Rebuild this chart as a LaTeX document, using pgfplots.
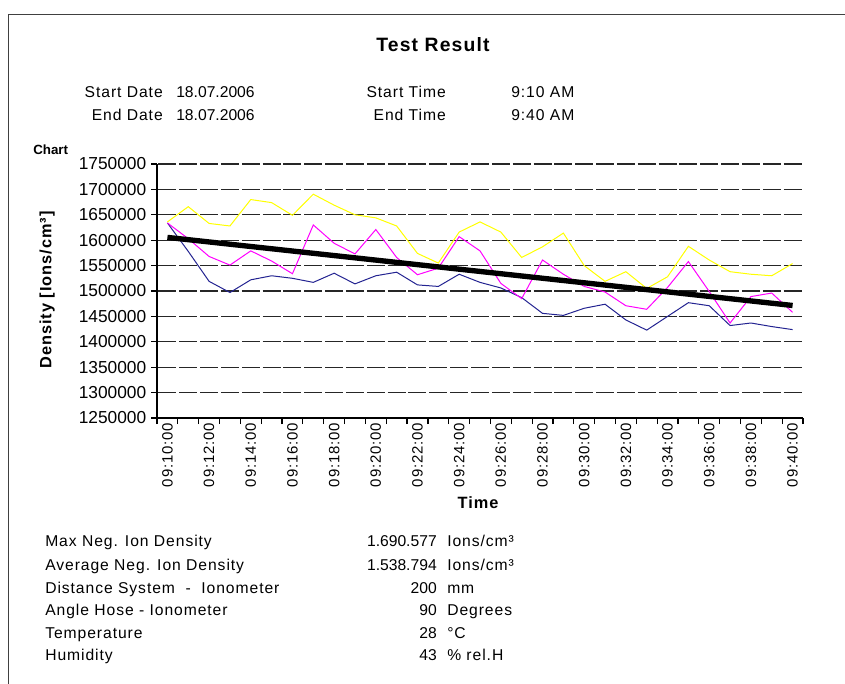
\documentclass[border=0pt]{standalone}
\usepackage{fontspec}
\setmainfont{Liberation Sans}
\newfontfamily\spaced{Liberation Sans}[LetterSpace=6]
\usepackage{pgfplots}
\pgfplotsset{compat=1.18}
\definecolor{navyline}{RGB}{35,35,145}
\definecolor{ylw}{RGB}{255,255,0}
\definecolor{mgt}{RGB}{255,0,255}
\newcommand\body{\spaced\fontsize{11.75}{14}\selectfont}
\newcommand\num{\fontsize{11.75}{14}\selectfont}
\begin{document}
\begin{tikzpicture}
\path[use as bounding box] (0pt,0pt) rectangle (633.75pt,-513pt);
\begin{scope}[x=0.75pt,y=-0.75pt]
\draw[line width=0.75pt, black!75] (8,690) -- (8,15) -- (850,15);
\node[anchor=base, inner sep=0] at (433,52) {\spaced\bfseries\fontsize{14.5}{16}\selectfont Test Result};
\node[anchor=base east, inner sep=0] at (163,98) {\body Start Date};
\node[anchor=base west, inner sep=0] at (176,98) {\num 18.07.2006};
\node[anchor=base east, inner sep=0] at (446,98) {\body Start Time};
\node[anchor=base west, inner sep=0] at (511,98) {\body 9:10 AM};
\node[anchor=base east, inner sep=0] at (163,121) {\body End Date};
\node[anchor=base west, inner sep=0] at (176,121) {\num 18.07.2006};
\node[anchor=base east, inner sep=0] at (446,121) {\body End Time};
\node[anchor=base west, inner sep=0] at (511,121) {\body 9:40 AM};
\node[anchor=base west, inner sep=0] at (33,155) {\bfseries\fontsize{10}{11}\selectfont Chart};
% bottom block
\node[anchor=base west, inner sep=0] at (45,546.5) {\body Max Neg. Ion Density};
\node[anchor=base west, inner sep=0] at (45,570.5) {\body Average Neg. Ion Density};
\node[anchor=base west, inner sep=0] at (45,593.5) {\body Distance System\ \ -\ \ Ionometer};
\node[anchor=base west, inner sep=0] at (45,615.5) {\body Angle Hose - Ionometer};
\node[anchor=base west, inner sep=0] at (45,638.5) {\body Temperature};
\node[anchor=base west, inner sep=0] at (45,660.5) {\body Humidity};
\node[anchor=base east, inner sep=0] at (437,546.5) {\num 1.690.577};
\node[anchor=base east, inner sep=0] at (437,570.5) {\num 1.538.794};
\node[anchor=base east, inner sep=0] at (437,593.5) {\num 200};
\node[anchor=base east, inner sep=0] at (437,615.5) {\num 90};
\node[anchor=base east, inner sep=0] at (437,638.5) {\num 28};
\node[anchor=base east, inner sep=0] at (437,660.5) {\num 43};
\node[anchor=base west, inner sep=0] at (447,546.5) {\body Ions/cm³};
\node[anchor=base west, inner sep=0] at (447,570.5) {\body Ions/cm³};
\node[anchor=base west, inner sep=0] at (447,593.5) {\body mm};
\node[anchor=base west, inner sep=0] at (447,615.5) {\body Degrees};
\node[anchor=base west, inner sep=0] at (447,638.5) {\body °C};
\node[anchor=base west, inner sep=0] at (447,660.5) {\body \% rel.H};
\end{scope}
\begin{axis}[
  at={(117.75pt,-313.5pt)}, anchor=south west,
  scale only axis, width=484.5pt, height=190.5pt,
  xmin=-0.5, xmax=30.5, ymin=1250000, ymax=1750000,
  axis x line=bottom, axis y line=left,
  axis line style={-, black, line width=0.9pt},
  tick align=outside, major tick length=4.5pt,
  tick style={black, line width=0.9pt},
  ytick={1250000,1300000,1350000,1400000,1450000,1500000,1550000,1600000,1650000,1700000,1750000},
  scaled y ticks=false,
  /pgf/number format/assume math mode=true,
  yticklabel style={/pgf/number format/fixed, /pgf/number format/precision=0, /pgf/number format/1000 sep={}, font=\fontsize{13}{13}\selectfont},
  ymajorgrids,
  major grid style={black!85, line width=0.85pt, dash pattern=on 13.5pt off 2.13pt, dash phase=14.57pt},
  xtick={-0.5,0.5,...,30.5},
  xticklabels={},
  extra x ticks={0,2,...,30},
  extra x tick labels={09:10:00,09:12:00,09:14:00,09:16:00,09:18:00,09:20:00,09:22:00,09:24:00,09:26:00,09:28:00,09:30:00,09:32:00,09:34:00,09:36:00,09:38:00,09:40:00},
  extra x tick style={major tick length=0pt, grid=none},
  x tick label style={rotate=90, anchor=east, font=\spaced\fontsize{11.2}{12}\selectfont},
  xlabel={Time},
  xlabel style={at={(axis description cs:0.497,-0.335)}, anchor=center, font=\spaced\bfseries\fontsize{12.25}{14}\selectfont},
  ylabel={Density [Ions/cm³]},
  ylabel style={at={(axis description cs:-0.170,0.504)}, anchor=center, font=\spaced\bfseries\fontsize{12.25}{14}\selectfont},
]
\addplot[navyline, line width=0.75pt] coordinates {
(0,1634000) (1,1578000) (2,1519000) (3,1497000) (4,1522000) (5,1530000) (6,1525000) (7,1517000)
(8,1535000) (9,1514000) (10,1530000) (11,1537000) (12,1512000) (13,1509000) (14,1533000) (15,1517000)
(16,1506000) (17,1487000) (18,1456000) (19,1452000) (20,1466000) (21,1474000) (22,1443000) (23,1423000)
(24,1450000) (25,1477000) (26,1471000) (27,1432000) (28,1437000) (29,1430000) (30,1424000)};
\addplot[mgt, line width=0.75pt] coordinates {
(0,1634000) (1,1603000) (2,1568000) (3,1551000) (4,1579000) (5,1559000) (6,1534000) (7,1630000)
(8,1594000) (9,1573000) (10,1621000) (11,1566000) (12,1532000) (13,1545000) (14,1607000) (15,1579000)
(16,1515000) (17,1485000) (18,1561000) (19,1533000) (20,1509000) (21,1498000) (22,1471000) (23,1464000)
(24,1507000) (25,1558000) (26,1499000) (27,1437000) (28,1489000) (29,1496000) (30,1458000)};
\addplot[ylw, line width=0.75pt] coordinates {
(0,1636000) (1,1666000) (2,1633000) (3,1628000) (4,1680000) (5,1674000) (6,1649000) (7,1690577)
(8,1669000) (9,1650000) (10,1644000) (11,1628000) (12,1574000) (13,1555000) (14,1616000) (15,1636000)
(16,1616000) (17,1566000) (18,1587000) (19,1614000) (20,1550000) (21,1519000) (22,1538000) (23,1505000)
(24,1528000) (25,1588000) (26,1561000) (27,1538000) (28,1533000) (29,1530000) (30,1554000)};
\addplot[black, line width=4pt] coordinates {(0,1605500) (30,1471500)};
\end{axis}
\end{tikzpicture}
\end{document}
